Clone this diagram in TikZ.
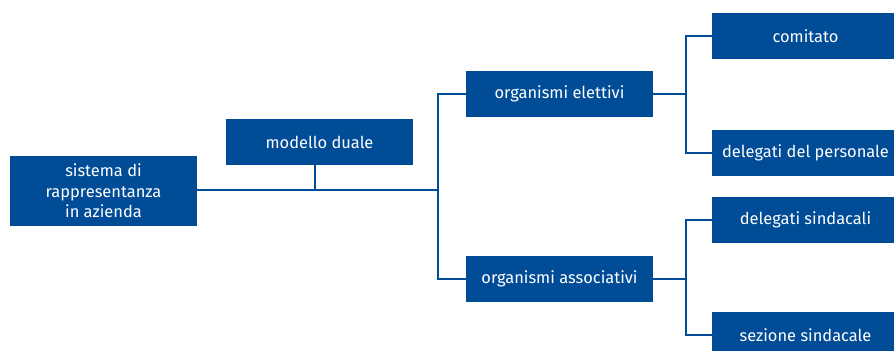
\documentclass[tikz,border=0pt]{standalone}
\usepackage{fontspec}
\setmainfont{Fira Sans}
\usetikzlibrary{positioning}

\definecolor{boxblue}{RGB}{0,76,151}

\tikzset{
    box/.style={rectangle,fill=boxblue,text=white,minimum width=187bp,minimum height=46bp,
                inner sep=0pt,align=center,font=\fontsize{16.5}{20.5}\selectfont},
    link/.style={draw=boxblue,line width=1.6bp}
}

\begin{document}
\begin{tikzpicture}[x=1bp,y=-1bp]

            \useasboundingbox (0,0) rectangle (894,350);
            \clip (0,0) rectangle (894,350);

            \path   (103.5,191) node (sis) [box,minimum height=70bp] {sistema di\\rappresentanza\\in azienda}
                    (319.5,142) node (dua) [box] {modello duale}
                    (559.5,94) node (ele) [box] {organismi elettivi}
                    (559.5,279) node (ass) [box] {organismi associativi}
                    (805.5,36) node (com) [box] {comitato}
                    (805.5,153) node (dep) [box] {delegati del personale}
                    (805.5,220) node (des) [box] {delegati sindacali}
                    (805.5,335) node (ses) [box] {sezione sindacale};

            \coordinate (j1) at (438,190);
            \coordinate (j2) at (686,94);
            \coordinate (j3) at (686,279);

            \draw[link] (sis.east |- j1) -- (j1);
            \draw[link] ([xshift=-4.5bp]dua.south) -- ([xshift=-4.5bp]dua.south |- j1);
            \draw[link] (ele.west) -| (j1) |- (ass.west);
            \draw[link] (ele.east) -- (j2);
            \draw[link] (com.west) -| (j2) |- (dep.west);
            \draw[link] (ass.east) -- (j3);
            \draw[link] (des.west) -| (j3) |- (ses.west);

        \end{tikzpicture}
\end{document}
